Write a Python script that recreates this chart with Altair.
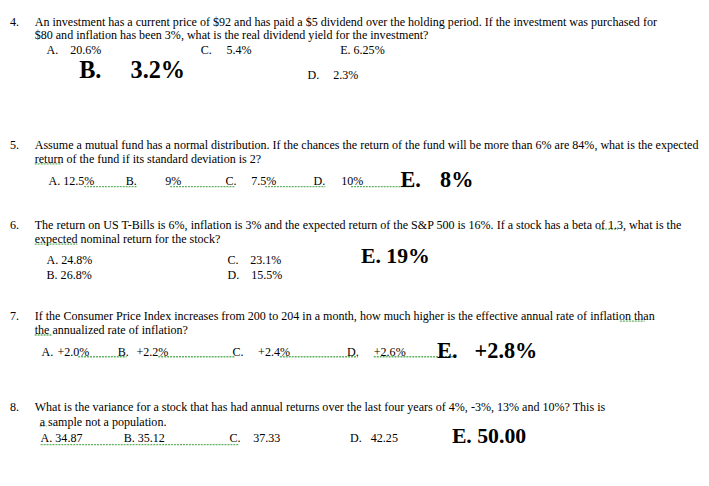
import altair as alt
import pandas as pd

# Regular text pieces: text, x, y (reference pixel positions)
reg_text = [
    "4.", "An investment has a current price of $92 and has paid a $5 dividend over the holding period. If the investment was purchased for",
    "$80 and inflation has been 3%, what is the real dividend yield for the investment?",
    "A.", "20.6%", "C.", "5.4%", "E. 6.25%", "D.", "2.3%",
    "5.", "Assume a mutual fund has a normal distribution. If the chances the return of the fund will be more than 6% are 84%, what is the expected",
    "return of the fund if its standard deviation is 2?",
    "A. 12.5%", "B.", "9%", "C.", "7.5%", "D.", "10%",
    "6.", "The return on US T-Bills is 6%, inflation is 3% and the expected return of the S&P 500 is 16%. If a stock has a beta of 1.3, what is the",
    "expected nominal return for the stock?",
    "A. 24.8%", "C.", "23.1%", "B. 26.8%", "D.", "15.5%",
    "7.", "If the Consumer Price Index increases from 200 to 204 in a month, how much higher is the effective annual rate of inflation than",
    "the annualized rate of inflation?",
    "A.", "+2.0%", "B.", "+2.2%", "C.", "+2.4%", "D.", "+2.6%",
    "8.", "What is the variance for a stock that has had annual returns over the last four years of 4%, -3%, 13% and 10%? This is",
    "a sample not a population.",
    "A. 34.87", "B. 35.12", "C.", "37.33", "D.", "42.25",
]
reg_x = [
    10, 35, 35, 47, 71, 203, 229, 344, 311, 337,
    10, 35, 35, 49, 127, 167, 228, 254, 317, 345,
    10, 35, 35, 47, 230, 253, 47, 230, 254,
    10, 35, 35, 42, 58, 119, 138, 235, 261, 351, 378,
    10, 35, 40, 41, 125, 232, 256, 354, 375,
]
reg_y = [
    19, 19, 33, 48, 48, 48, 48, 48, 73, 73,
    144, 144, 158, 180, 180, 180, 180, 180, 180, 180,
    225, 225, 239, 260, 260, 260, 275, 275, 275,
    317, 317, 331, 353, 353, 353, 353, 353, 353, 353, 353,
    409, 409, 424, 440, 440, 440, 440, 440, 440,
]

# Large bold answers
bold_text = ["B.", "3.2%", "E.", "8%", "E. 19%", "E.", "+2.8%", "E. 50.00"]
bold_x = [80, 132, 405, 445, 365, 442, 480, 457]
bold_y = [69, 69, 179, 179, 256, 352, 352, 438]
bold_size = [24.5, 24.5, 22.5, 22.5, 22, 22.5, 22.5, 22]

# Green spell-check squiggles (start, end, y)
sq_x1 = [85, 172, 268, 355, 35, 35, 606, 79, 160, 283, 378, 627, 35, 40, 41]
sq_x2 = [138, 238, 329, 418, 62, 78, 625, 128, 237, 362, 458, 652, 52, 47, 242]
sq_y = [186, 186, 186, 186, 163, 244, 229, 358, 358, 358, 358, 322, 336, 428, 447]

reg = pd.DataFrame({"t": reg_text, "x": reg_x, "y": reg_y})
bold = pd.DataFrame({"t": bold_text, "x": bold_x, "y": bold_y, "s": bold_size})
sq = pd.DataFrame({"x1": sq_x1, "x2": sq_x2, "y": sq_y})

xs = alt.Scale(domain=[8, 709])
ys = alt.Scale(domain=[8, 486], reverse=True)

squig = alt.Chart(sq).mark_rule(
    color="#3c9e3c", strokeWidth=1.3, strokeDash=[2, 1], opacity=0.8
).encode(
    x=alt.X("x1:Q", scale=xs, axis=None),
    x2="x2:Q",
    y=alt.Y("y:Q", scale=ys, axis=None),
)

base_reg = alt.Chart(reg).mark_text(
    align="left", baseline="middle", font="Liberation Serif", fontSize=12.2, color="black"
).encode(
    x=alt.X("x:Q", scale=xs, axis=None),
    y=alt.Y("y:Q", scale=ys, axis=None),
    text="t:N",
)

base_bold = alt.Chart(bold).mark_text(
    align="left", baseline="middle", font="Liberation Serif", fontWeight="bold", color="black"
).encode(
    x=alt.X("x:Q", scale=xs, axis=None),
    y=alt.Y("y:Q", scale=ys, axis=None),
    text="t:N",
    size=alt.Size("s:Q", scale=None, legend=None),
)

chart = alt.layer(squig, base_reg, base_bold).properties(
    width=701, height=478, padding=0, autosize=alt.AutoSizeParams(type="none"),
    background="white",
).configure_view(stroke=None)

chart.save("out.html", embed_options={"renderer": "svg", "actions": False})
